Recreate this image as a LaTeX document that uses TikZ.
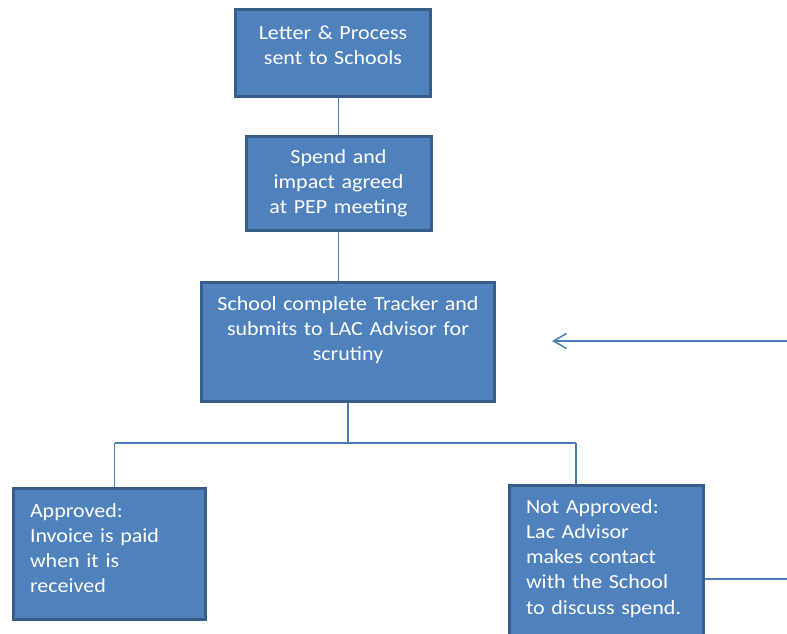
\documentclass[tikz,border=0pt]{standalone}
\usepackage{fontspec}
\setmainfont{Carlito}[FakeStretch=1.1]
\usepackage{xcolor}
\usepackage{tikz}
\usetikzlibrary{calc, math}
\usetikzlibrary{arrows.meta}
\usetikzlibrary{positioning}
\definecolor{boxfill}{HTML}{4F81BD}
\definecolor{boxedge}{HTML}{385D8A}
\definecolor{flowline}{HTML}{4A7EBB}

\tikzset{
  stepbox/.style={draw=boxedge, fill=boxfill, line width=3pt, text=white,
    font=\fontsize{20}{25.2}\selectfont, inner ysep=0pt, anchor=north west},
  flow/.style={draw=flowline, line width=1.5pt},
}

\begin{document}
\begin{tikzpicture}[x=1pt, y=-1pt]
  \tikzmath{
    \xmin=0;
    \xmax=787;
    \ymin=0;
    \ymax=633;
    \splity=443;
  }
  \useasboundingbox (\xmin, \ymin) rectangle (\xmax, \ymax);
  \clip (\xmin, \ymin) rectangle (\xmax, \ymax);

  \node[stepbox, align=center, inner xsep=4pt, text width=187pt, text height=29.8pt, text depth=57.2pt]
    (letter) at (234, 8) {Letter \& Process\\sent to Schools};
  \node[stepbox, align=center, inner xsep=4pt, text width=177pt, text height=26.8pt, text depth=66.9pt]
    (spend) at (244.5, 135) {Spend and\\impact agreed\\at PEP meeting};
  \node[stepbox, align=center, inner xsep=4pt, text width=285pt, text height=27.5pt, text depth=91.5pt]
    (tracker) at (200, 281) {School complete Tracker and\\submits to LAC Advisor for\\scrutiny};
  \node[stepbox, align=left, inner xsep=16.5pt, text width=159pt, text height=28.8pt, text depth=101.7pt]
    (approved) at (12, 487) {Approved:\\Invoice is paid\\when it is\\received};
  \node[stepbox, align=left, inner xsep=17pt, text width=160.5pt, text height=28.3pt, text depth=141.7pt]
    (declined) at (507.5, 483.5) {Not Approved:\\Lac Advisor\\makes contact\\with the School\\to discuss spend.};

  % Vertical flow between the top boxes
  \draw[flow] (spend.north) -- (spend.north |- letter.south);
  \draw[flow] (spend.south) -- (spend.south |- tracker.north);

  % Split into the two outcomes
  \coordinate (split) at (tracker.south |- 0, \splity);
  \coordinate (splitleft) at (114.5, \splity);
  \coordinate (splitright) at (576, \splity);
  \draw[flow] (tracker.south) -- (split);
  \draw[flow] (splitleft) -- (splitright);
  \draw[flow] (splitleft) -- (splitleft |- approved.north);
  \draw[flow] (splitright) -- (splitright |- declined.north);

  % Loop back to the tracker
  \coordinate (loopout) at (\xmax, 579);
  \coordinate (loopin) at (\xmax, 341);
  \coordinate (loopend) at (552, 341);
  \draw[flow] (declined.east |- loopout) -- (loopout);
  \draw[flow, -{Straight Barb[length=13pt, width=15pt]}] (loopin) -- (loopend);
\end{tikzpicture}
\end{document}
